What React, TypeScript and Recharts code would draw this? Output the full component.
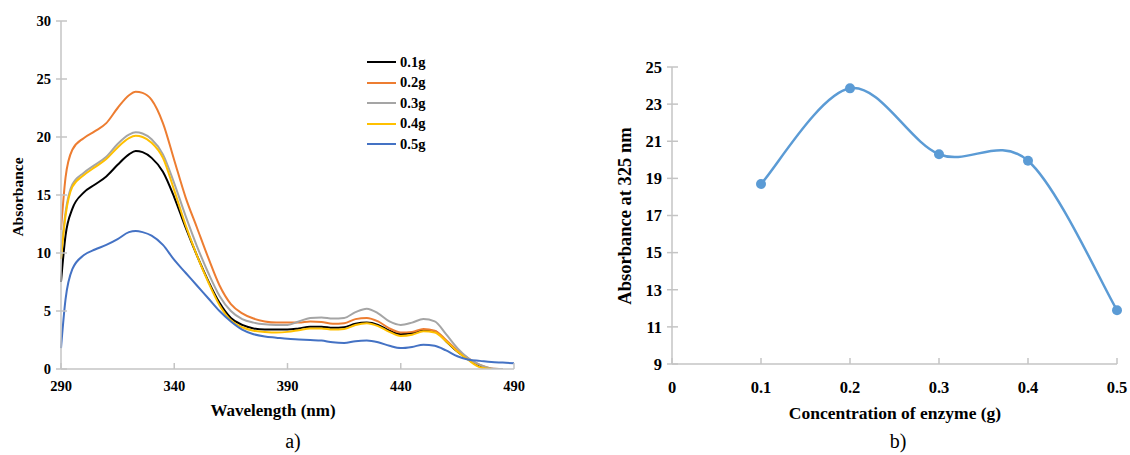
import React from "react";
import { LineChart, Line, XAxis, YAxis } from "recharts";

// chart a) spectra
const wavelengths = [290, 292, 295, 300, 305, 310, 315, 320, 323, 326, 330, 335, 340, 345, 350, 355, 360, 365, 370, 375, 380, 385, 390, 395, 400, 405, 410, 415, 420, 425, 430, 435, 440, 445, 450, 455, 460, 465, 470, 475, 480, 485, 490];
const abs01 = [7.5, 11.5, 13.8, 15.2, 15.9, 16.6, 17.6, 18.5, 18.8, 18.7, 18.2, 17.0, 14.8, 12.2, 9.8, 7.6, 5.7, 4.4, 3.8, 3.5, 3.4, 3.4, 3.4, 3.5, 3.65, 3.65, 3.55, 3.6, 3.9, 4.0, 3.8, 3.3, 3.0, 3.1, 3.35, 3.25, 2.4, 1.5, 0.8, 0.2, 0, null, null];
const abs02 = [12, 16.5, 18.9, 19.9, 20.5, 21.2, 22.5, 23.6, 23.9, 23.8, 23.2, 21.2, 18.0, 14.8, 12.2, 9.6, 7.2, 5.6, 4.8, 4.35, 4.1, 4.0, 4.0, 4.0, 4.1, 4.05, 3.9, 3.95, 4.3, 4.4, 4.1, 3.5, 3.15, 3.2, 3.45, 3.3, 2.5, 1.6, 0.9, 0.35, 0.05, 0, null];
const abs03 = [10, 13.5, 15.9, 16.9, 17.6, 18.3, 19.4, 20.2, 20.4, 20.3, 19.8, 18.5, 16.0, 13.2, 10.6, 8.3, 6.3, 5.0, 4.3, 4.0, 3.85, 3.8, 3.8, 4.1, 4.4, 4.45, 4.35, 4.4, 4.9, 5.2, 4.8, 4.1, 3.8, 4.0, 4.3, 4.1, 3.0, 1.8, 0.9, 0.35, 0.05, 0, null];
const abs04 = [9.5, 13.2, 15.7, 16.7, 17.4, 18.1, 19.1, 19.9, 20.1, 20.0, 19.5, 18.2, 15.4, 12.4, 9.8, 7.5, 5.5, 4.2, 3.6, 3.3, 3.2, 3.15, 3.2, 3.35, 3.5, 3.5, 3.4, 3.45, 3.8, 3.95, 3.7, 3.2, 2.85, 2.95, 3.25, 3.15, 2.4, 1.5, 0.75, 0.15, 0, null, null];
const abs05 = [1.8, 6.0, 8.6, 9.8, 10.3, 10.7, 11.2, 11.8, 11.9, 11.8, 11.5, 10.7, 9.4, 8.3, 7.2, 6.1, 5.0, 4.1, 3.4, 3.0, 2.8, 2.7, 2.6, 2.55, 2.5, 2.45, 2.3, 2.25, 2.4, 2.45, 2.3, 2.0, 1.8, 1.9, 2.1, 2.0, 1.6, 1.1, 0.8, 0.7, 0.6, 0.55, 0.5];
const wlTicks = [290, 340, 390, 440, 490];
const absTicks = [0, 5, 10, 15, 20, 25, 30];

// chart b) absorbance at 325 nm
const concentrations = [0.1, 0.2, 0.3, 0.4, 0.5];
const abs325 = [18.7, 23.85, 20.3, 19.95, 11.9];
const concTicks = [0, 0.1, 0.2, 0.3, 0.4, 0.5];
const abs325Ticks = [9, 11, 13, 15, 17, 19, 21, 23, 25];

const series = [
  { key: "0.1g", values: abs01, color: "#000000" },
  { key: "0.2g", values: abs02, color: "#ed7d31" },
  { key: "0.3g", values: abs03, color: "#a5a5a5" },
  { key: "0.4g", values: abs04, color: "#ffc000" },
  { key: "0.5g", values: abs05, color: "#4472c4" },
];

const spectra = wavelengths.map((wl, i) => {
  const row: any = { wl };
  series.forEach((s) => (row[s.key] = s.values[i]));
  return row;
});
const enzyme = concentrations.map((c, i) => ({ c, v: abs325[i] }));

const FONT = "'Liberation Serif', 'Times New Roman', serif";
const AXIS = "#c4c4c4";

// catmull-rom curve, roughly what Excel's smoothed line does
const smooth: any = (ctx: any) => {
  let pts: number[][] = [];
  return {
    areaStart() {},
    areaEnd() {},
    lineStart() { pts = []; },
    point(x: number, y: number) { pts.push([+x, +y]); },
    lineEnd() {
      if (!pts.length) return;
      ctx.moveTo(pts[0][0], pts[0][1]);
      for (let i = 0; i < pts.length - 1; i++) {
        const p0 = pts[i - 1] || pts[i];
        const p1 = pts[i];
        const p2 = pts[i + 1];
        const p3 = pts[i + 2] || p2;
        ctx.bezierCurveTo(
          p1[0] + (p2[0] - p0[0]) / 6, p1[1] + (p2[1] - p0[1]) / 6,
          p2[0] - (p3[0] - p1[0]) / 6, p2[1] - (p3[1] - p1[1]) / 6,
          p2[0], p2[1]
        );
      }
    },
  };
};

const makeXTick = (size: number, gap: number) => (p: any) => {
  const axisY = p.y - 8;
  return (
    <g>
      <line x1={p.x} x2={p.x} y1={axisY - 6} y2={axisY} stroke={AXIS} strokeWidth={1.5} />
      <text x={p.x} y={p.y + gap} dy="0.71em" textAnchor="middle" fontFamily={FONT} fontWeight="bold" fontSize={size} fill="#000">
        {String(p.payload.value)}
      </text>
    </g>
  );
};

const makeYTick = (size: number) => (p: any) => {
  const axisX = p.x + 8;
  return (
    <g>
      <line x1={axisX - 5} x2={axisX + 6} y1={p.y} y2={p.y} stroke={AXIS} strokeWidth={1.5} />
      <text x={p.x - 2} y={p.y} dy="0.355em" textAnchor="end" fontFamily={FONT} fontWeight="bold" fontSize={size} fill="#000">
        {p.payload.value}
      </text>
    </g>
  );
};

const textStyle: React.CSSProperties = {
  position: "absolute",
  fontFamily: FONT,
  fontWeight: "bold",
  color: "#000",
  whiteSpace: "nowrap",
  lineHeight: 1,
};

export default function App() {
  return (
    <div style={{ position: "absolute", left: 0, top: 0, width: 1130, height: 455, background: "#fff" }}>
      <div style={{ position: "absolute", left: 0, top: 0 }}>
        <LineChart width={560} height={455} data={spectra} margin={{ top: 21, right: 46, bottom: 56, left: 0 }}>
          <XAxis dataKey="wl" type="number" domain={[290, 490]} ticks={wlTicks} height={30}
            stroke={AXIS} strokeWidth={1.5} tickLine={false} tick={makeXTick(14.5, 4)} interval={0} />
          <YAxis type="number" domain={[0, 30]} ticks={absTicks} width={61} allowDataOverflow
            stroke={AXIS} strokeWidth={1.5} tickLine={false} tick={makeYTick(14.5)} interval={0} />
          {series.map((s) => (
            <Line key={s.key} dataKey={s.key} type="monotone" stroke={s.color} strokeWidth={2}
              dot={false} activeDot={false} isAnimationActive={false} connectNulls={false} />
          ))}
        </LineChart>
      </div>

      <div style={{ ...textStyle, fontSize: 15.5, left: 18, top: 197, transform: "translate(-50%, -50%) rotate(-90deg)" }}>Absorbance</div>
      <div style={{ ...textStyle, fontSize: 17, left: 273, top: 410, transform: "translate(-50%, -50%)" }}>Wavelength (nm)</div>
      <div style={{ ...textStyle, fontWeight: "normal", fontSize: 20, left: 293, top: 441, transform: "translate(-50%, -50%)" }}>a)</div>

      <div style={{ position: "absolute", left: 367, top: 52 }}>
        {series.map((s) => (
          <div key={s.key} style={{ display: "flex", alignItems: "center", height: 20.5 }}>
            <div style={{ width: 29, height: 2, background: s.color, marginRight: 4 }} />
            <span style={{ fontFamily: FONT, fontWeight: "bold", fontSize: 14.5 }}>{s.key}</span>
          </div>
        ))}
      </div>

      <div style={{ position: "absolute", left: 560, top: 0 }}>
        <LineChart width={570} height={455} data={enzyme} margin={{ top: 67, right: 13, bottom: 61, left: 0 }}>
          <XAxis dataKey="c" type="number" domain={[0, 0.5]} ticks={concTicks} height={30}
            stroke={AXIS} strokeWidth={1.5} tickLine={false} tick={makeXTick(16.5, 9)} interval={0} />
          <YAxis type="number" domain={[9, 25]} ticks={abs325Ticks} width={112}
            stroke={AXIS} strokeWidth={1.5} tickLine={false} tick={makeYTick(16.5)} interval={0} />
          <Line dataKey="v" type={smooth} stroke="#5b9bd5" strokeWidth={2.5}
            dot={{ r: 5, fill: "#5b9bd5", stroke: "none" }} activeDot={false} isAnimationActive={false} />
        </LineChart>
      </div>

      <div style={{ ...textStyle, fontSize: 18.5, left: 625, top: 216, transform: "translate(-50%, -50%) rotate(-90deg)" }}>Absorbance at 325 nm</div>
      <div style={{ ...textStyle, fontSize: 17.5, left: 895, top: 414, transform: "translate(-50%, -50%)" }}>Concentration of enzyme (g)</div>
      <div style={{ ...textStyle, fontWeight: "normal", fontSize: 20, left: 898, top: 441, transform: "translate(-50%, -50%)" }}>b)</div>
    </div>
  );
}
